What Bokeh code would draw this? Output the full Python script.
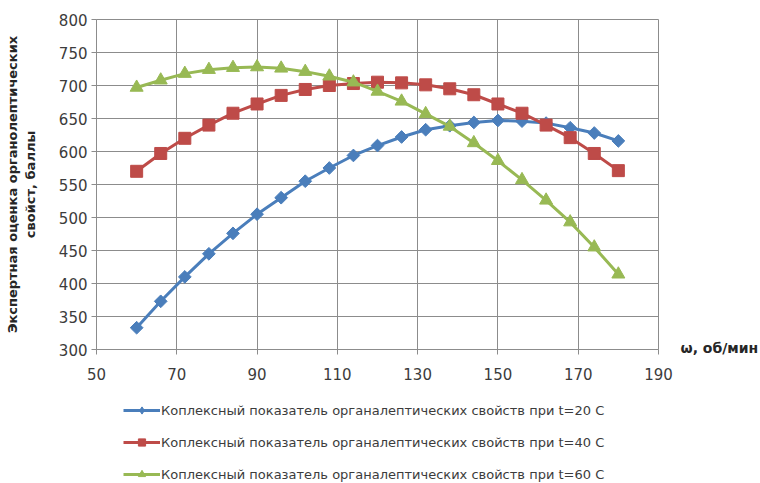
from bokeh.plotting import figure
from bokeh.layouts import column
from bokeh.models import Legend, LegendItem, Label, FixedTicker, Range1d
from bokeh.embed import file_html
from bokeh.resources import INLINE

# ---- data ----
omega = [60, 66, 72, 78, 84, 90, 96, 102, 108, 114, 120, 126, 132, 138, 144, 150, 156, 162, 168, 174, 180]
t20 = [333, 373, 410, 445, 476, 505, 530, 555, 575, 594, 609, 622, 633, 639, 644, 647, 646, 643, 636, 628, 616]
t40 = [570, 597, 620, 640, 658, 672, 685, 694, 700, 703, 705, 704, 701, 695, 686, 672, 658, 640, 621, 597, 571]
t60 = [697, 708, 718, 724, 727, 728, 726, 721, 714, 705, 691, 676, 657, 638, 613, 586, 557, 526, 493, 455, 414]

x_ticks = [50, 70, 90, 110, 130, 150, 170, 190]
y_ticks = [300, 350, 400, 450, 500, 550, 600, 650, 700, 750, 800]

labels = [
    "Коплексный показатель органалептических свойств при t=20 С",
    "Коплексный показатель органалептических свойств при t=40 С",
    "Коплексный показатель органалептических свойств при t=60 С",
]
colors = ["#4A7EBB", "#BE4B48", "#98B954"]

FONT = "DejaVu Sans"
GRID = "#8c8c8c"
TXT = "#3c3c3c"

# ---- main chart ----
p = figure(width=760, height=389, output_backend="svg", toolbar_location=None,
           x_range=Range1d(50, 190), y_range=Range1d(300, 800),
           min_border_left=96, min_border_right=102, min_border_top=19, min_border_bottom=40)
p.background_fill_color = "white"
p.border_fill_color = "white"
p.outline_line_color = GRID

p.xaxis.ticker = FixedTicker(ticks=x_ticks)
p.yaxis.ticker = FixedTicker(ticks=y_ticks)
for ax in (p.xaxis, p.yaxis):
    ax.axis_line_color = GRID
    ax.major_tick_line_color = GRID
    ax.major_tick_out = 5
    ax.major_tick_in = 0
    ax.minor_tick_line_color = None
    ax.major_label_text_font = FONT
    ax.major_label_text_font_size = "15px"
    ax.major_label_text_color = TXT
p.yaxis.major_label_standoff = 4
p.xaxis.major_label_standoff = 13

p.yaxis.axis_label = "Экспертная оценка органолептических\nсвойст, баллы"
p.yaxis.axis_label_text_font = FONT
p.yaxis.axis_label_text_font_size = "13px"
p.yaxis.axis_label_text_font_style = "bold"
p.yaxis.axis_label_text_color = "#262626"
p.yaxis.axis_label_standoff = 18

p.xgrid.grid_line_color = GRID
p.ygrid.grid_line_color = GRID
p.xgrid.ticker = FixedTicker(ticks=x_ticks)
p.ygrid.ticker = FixedTicker(ticks=y_ticks)

series = [t20, t40, t60]
markers = ["square", "square", "triangle"]
angles = [0.7854, 0.0, 0.0]
sizes = [9, 12, 13]
for vals, col, mk, ang, sz in zip(series, colors, markers, angles, sizes):
    p.line(omega, vals, line_color=col, line_width=3)
    p.scatter(omega, vals, marker=mk, size=sz, angle=ang, fill_color=col, line_color=col)

xl = Label(x=22, y=2, x_units="screen", y_units="screen", text="ω, об/мин",
           text_font=FONT, text_font_size="14px", text_font_style="bold",
           text_color="#262626", text_baseline="middle", text_align="left")
p.add_layout(xl, "right")

# ---- legend strip below the chart ----
p2 = figure(width=760, height=94, output_backend="svg", toolbar_location=None,
            x_range=Range1d(0, 1), y_range=Range1d(0, 1),
            x_axis_location=None, y_axis_location=None,
            min_border=0, min_border_left=0, min_border_right=0,
            min_border_top=0, min_border_bottom=0)
p2.outline_line_color = None
p2.grid.visible = False
p2.background_fill_color = "white"
p2.border_fill_color = "white"

legend_markers = ["diamond", "square", "triangle"]
items = []
for vals, lab, col, mk in zip(series, labels, colors, legend_markers):
    # same series, outside this strip's visible range: only their legend swatches show
    r1 = p2.line(omega, vals, line_color=col, line_width=3)
    r2 = p2.scatter(omega, vals, marker=mk, fill_color=col, line_color=col)
    items.append(LegendItem(label=lab, renderers=[r1, r2]))

legend = Legend(items=items, location=(27, 0), orientation="vertical",
                padding=0, margin=0, spacing=14, glyph_width=37, glyph_height=18,
                label_height=18, label_standoff=1,
                label_text_font=FONT, label_text_font_size="13px", label_text_color=TXT,
                border_line_alpha=0, background_fill_alpha=0)
p2.add_layout(legend, "center")

layout = column(p, p2, spacing=0)
open("out.html", "w").write(file_html(layout, INLINE))
